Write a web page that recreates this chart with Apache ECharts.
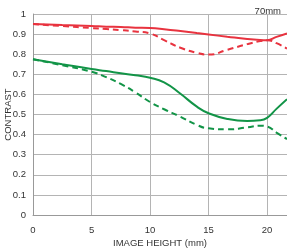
<!DOCTYPE html>
<html><head><meta charset="utf-8">
<script src="https://cdn.jsdelivr.net/npm/echarts@6/dist/echarts.min.js"></script>
<style>html,body{margin:0;padding:0;background:#fff}#c{width:287px;height:248px}</style>
</head><body><div id="c"></div>
<script>
var imageHeight = [0, 2.5, 5, 6.25, 7.5, 8.75, 10, 11.2, 12.6, 14, 15, 16.6, 18.3, 19.4, 20, 20.8, 21.7];
var redSolid   = [0.95, 0.945, 0.94, 0.937, 0.935, 0.932, 0.93, 0.924, 0.915, 0.905, 0.898, 0.887, 0.876, 0.871, 0.87, 0.886, 0.903];
var redDashed  = [0.95, 0.94, 0.93, 0.925, 0.92, 0.913, 0.903, 0.87, 0.832, 0.807, 0.798, 0.822, 0.85, 0.865, 0.87, 0.855, 0.828];
var greenSolid = [0.775, 0.75, 0.726, 0.716, 0.705, 0.695, 0.683, 0.66, 0.603, 0.539, 0.506, 0.478, 0.468, 0.471, 0.483, 0.528, 0.576];
var greenDashed= [0.775, 0.745, 0.713, 0.686, 0.652, 0.61, 0.562, 0.526, 0.489, 0.448, 0.431, 0.426, 0.436, 0.444, 0.44, 0.41, 0.378];
var xTicks = [0, 5, 10, 15, 20];
var yTicks = [0, 0.1, 0.2, 0.3, 0.4, 0.5, 0.6, 0.7, 0.8, 0.9, 1];
var lensLabel = '70mm';

function pairs(ys){ return imageHeight.map(function(x,i){ return [x, ys[i]]; }); }
var RED = '#e8333f', GREEN = '#129447';
var FONT = 'Liberation Sans, Arial, sans-serif';
var chart = echarts.init(document.getElementById('c'), null, {renderer:'canvas'});
chart.setOption({
  animation: false,
  textStyle: {fontFamily: FONT},
  title: {text: lensLabel, right: 1, top: 1, textStyle: {fontSize: 9.5, fontWeight: 'normal', color: '#333', fontFamily: FONT}},
  grid: {left: 33, right: 0, top: 14, bottom: 33, containLabel: false, outerBoundsMode: 'none'},
  xAxis: {
    type: 'value', min: 0, max: 21.7, interval: 5,
    name: 'IMAGE HEIGHT (mm)', nameLocation: 'middle', nameGap: 23, nameMoveOverlap: false,
    nameTextStyle: {fontSize: 9.5, color: '#333', fontFamily: FONT},
    axisLine: {show: true, lineStyle: {color: '#999', width: 1}},
    axisTick: {show: false},
    axisLabel: {fontSize: 9.5, color: '#333', margin: 10, formatter: function(v){ return xTicks.indexOf(v) >= 0 ? String(v) : ''; }},
    splitLine: {show: true, lineStyle: {color: '#b4b4b4', width: 1}}
  },
  yAxis: {
    type: 'value', min: 0, max: 1, interval: 0.1,
    name: 'CONTRAST', nameLocation: 'middle', nameGap: 20, nameRotate: 90, nameMoveOverlap: false,
    nameTextStyle: {fontSize: 9.5, color: '#333', fontFamily: FONT},
    axisLine: {show: true, lineStyle: {color: '#999', width: 1}},
    axisTick: {show: false},
    axisLabel: {fontSize: 9.5, color: '#333', margin: 7, formatter: function(v){ var r = Math.round(v*10)/10; return yTicks.indexOf(r) >= 0 ? String(r) : ''; }},
    splitLine: {show: true, lineStyle: {color: '#b4b4b4', width: 1}}
  },
  series: [
    {type: 'line', data: pairs(redSolid), smooth: 0.5, symbol: 'none', lineStyle: {color: RED, width: 2}},
    {type: 'line', data: pairs(redDashed), smooth: 0.5, symbol: 'none', lineStyle: {color: RED, width: 2, type: [6, 4]}},
    {type: 'line', data: pairs(greenSolid), smooth: 0.5, symbol: 'none', lineStyle: {color: GREEN, width: 2}},
    {type: 'line', data: pairs(greenDashed), smooth: 0.5, symbol: 'none', lineStyle: {color: GREEN, width: 2, type: [6, 4]}}
  ]
});
</script></body></html>
